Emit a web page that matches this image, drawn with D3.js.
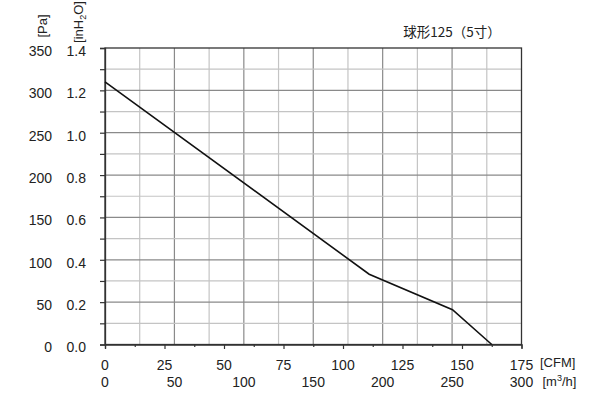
<!DOCTYPE html>
<html>
<head>
<meta charset="utf-8">
<script src="https://cdn.jsdelivr.net/npm/d3@7"></script>
<style>
  body { margin: 0; background: #fff; }
  text { font-family: "Liberation Sans", Arial, sans-serif; fill: #222; }
</style>
</head>
<body>
<div id="chart"></div>
<script>
// fan curve
const flowCfm = [0, 111, 146, 162.5];
const pressurePa = [310, 83, 41, 0];

const cfmTicks = [0, 25, 50, 75, 100, 125, 150, 175];
const m3hTicks = [0, 50, 100, 150, 200, 250, 300];
const paTicks = [0, 50, 100, 150, 200, 250, 300, 350];
const inh2oLabels = ["0.0", "0.2", "0.4", "0.6", "0.8", "1.0", "1.2", "1.4"];
const title = "球形125（5寸）";

const margin = { top: 48, right: 78.5, bottom: 51.5, left: 105 };
const width = 600 - margin.left - margin.right;
const height = 396 - margin.top - margin.bottom;

const svg = d3.select("#chart").append("svg")
  .attr("width", 600)
  .attr("height", 396);

const g = svg.append("g")
  .attr("transform", `translate(${margin.left},${margin.top})`);

let x = d3.scaleLinear().domain([0, 175]).range([0, width]);
let xm = d3.scaleLinear().domain([0, 300]).range([0, width]);
let y = d3.scaleLinear().domain([0, 350]).range([height, 0]);

// grid: every 25 m3/h and every 25 Pa, darker on the 50s
g.append("g").selectAll("line")
  .data(d3.range(25, 300, 25))
  .enter().append("line")
  .attr("x1", d => xm(d)).attr("x2", d => xm(d))
  .attr("y1", 0).attr("y2", height)
  .attr("stroke", d => d % 50 === 0 ? "#8a8a8a" : "#c4c4c4")
  .attr("stroke-width", 1.2);

g.append("g").selectAll("line")
  .data(d3.range(25, 350, 25))
  .enter().append("line")
  .attr("x1", 0).attr("x2", width)
  .attr("y1", d => y(d)).attr("y2", d => y(d))
  .attr("stroke", d => d % 50 === 0 ? "#8a8a8a" : "#c4c4c4")
  .attr("stroke-width", 1.2);

// frame
g.append("rect")
  .attr("width", width).attr("height", height)
  .attr("fill", "none").attr("stroke", "#333").attr("stroke-width", 1.3);

// tick marks
const axB = g.append("g")
  .attr("transform", `translate(0,${height})`)
  .call(d3.axisBottom(x).tickValues(d3.range(0, 176, 12.5)).tickSize(4).tickFormat(""));
axB.selectAll(".tick line").attr("y2", d => d % 25 === 0 ? 4.5 : 2.5);
const axL = g.append("g")
  .call(d3.axisLeft(y).tickValues(d3.range(0, 351, 25)).tickSize(5).tickFormat(""));
[axB, axL].forEach(a => {
  a.select(".domain").attr("stroke", "#333").attr("stroke-width", 1.3);
  a.selectAll(".tick line").attr("stroke", "#333").attr("stroke-width", 1.2);
});

// y labels
g.selectAll(".pa").data(paTicks).enter().append("text")
  .attr("x", 52 - margin.left).attr("y", d => y(d) + 3)
  .attr("dy", "0.35em").attr("text-anchor", "end")
  .style("font-size", "14px").text(d => d);
g.selectAll(".in").data(paTicks).enter().append("text")
  .attr("x", 86 - margin.left).attr("y", d => y(d) + 3)
  .attr("dy", "0.35em").attr("text-anchor", "end")
  .style("font-size", "14px").text((d, i) => inh2oLabels[i]);

// x labels
g.selectAll(".cfm").data(cfmTicks).enter().append("text")
  .attr("x", d => x(d)).attr("y", 365 - margin.top)
  .attr("dy", "0.35em").attr("text-anchor", "middle")
  .style("font-size", "14px").text(d => d);
g.selectAll(".m3h").data(m3hTicks).enter().append("text")
  .attr("x", d => xm(d)).attr("y", 382.5 - margin.top)
  .attr("dy", "0.35em").attr("text-anchor", "middle")
  .style("font-size", "14px").text(d => d);

// unit labels
svg.append("text").attr("x", 540).attr("y", 362).attr("dy", "0.35em")
  .style("font-size", "13px").text("[CFM]");
const m3 = svg.append("text").attr("x", 542.5).attr("y", 381).attr("dy", "0.35em")
  .style("font-size", "13px");
m3.append("tspan").text("[m");
m3.append("tspan").attr("dy", "-5").style("font-size", "9px").text("3");
m3.append("tspan").attr("dy", "5").text("/h]");

svg.append("text")
  .attr("transform", "translate(42,26) rotate(-90)")
  .attr("text-anchor", "middle").attr("dy", "0.35em")
  .style("font-size", "13px").text("[Pa]");
const inh = svg.append("text")
  .attr("transform", "translate(78,22) rotate(-90)")
  .attr("text-anchor", "middle").attr("dy", "0.35em")
  .style("font-size", "13px");
inh.append("tspan").text("[inH");
inh.append("tspan").attr("dy", "3").style("font-size", "9px").text("2");
inh.append("tspan").attr("dy", "-3").text("O]");

// title
svg.append("text")
  .attr("x", 452).attr("y", 32).attr("dy", "0.35em")
  .attr("text-anchor", "middle")
  .style("font-family", "'Noto Sans CJK SC', sans-serif")
  .style("font-size", "13.5px").text(title);

// curve
const pts = flowCfm.map((c, i) => [c, pressurePa[i]]);
g.append("path")
  .datum(pts)
  .attr("fill", "none")
  .attr("stroke", "#111")
  .attr("stroke-width", 1.6)
  .attr("d", d3.line().x(d => x(d[0])).y(d => y(d[1])));
</script>
</body>
</html>
